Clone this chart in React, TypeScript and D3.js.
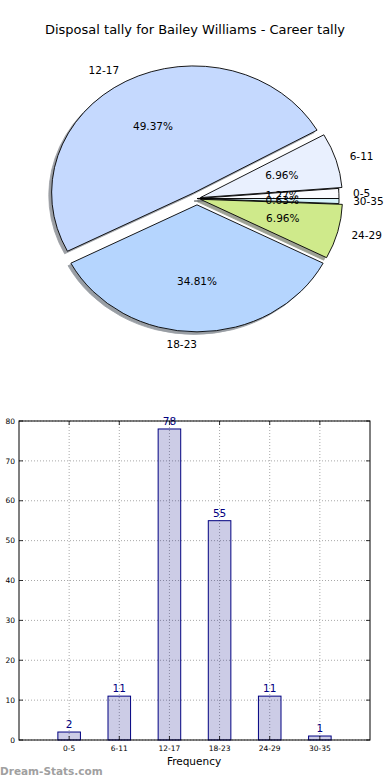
import React from "react";
import * as d3 from "d3";

const categories = ["0-5", "6-11", "12-17", "18-23", "24-29", "30-35"];
const tally = [2, 11, 78, 55, 11, 1];
const sliceColors = ["#fbfcff", "#e9f0fe", "#c5d9fe", "#b5d5fe", "#cfea8b", "#d6f3fb"];
const explode = [0, 0.025, 0.05, 0.05, 0.025, 0];
const yTicks = [0, 10, 20, 30, 40, 50, 60, 70, 80];

const W = 390;
const H = 780;
const font = "DejaVu Sans, sans-serif";

// pie is an ellipse (matplotlib without equal aspect)
const cx = 197;
const cy = 198.5;
const rx = 142;
const ry = 127;

// bar axes box
const bar = { left: 19, right: 370, top: 421, bottom: 740 };

const darken = (c: string) => {
  const col = d3.rgb(c);
  return d3.rgb(col.r * 0.3, col.g * 0.3, col.b * 0.3).toString();
};

const App = () => {
  const total = d3.sum(tally);
  const pie = d3
    .pie<number>()
    .sort(null)
    .startAngle(Math.PI / 2)
    .endAngle(Math.PI / 2 - 2 * Math.PI);
  const slices = pie(tally);
  const arc = d3.arc<d3.PieArcDatum<number>>().innerRadius(0).outerRadius(rx);

  const mid = (d: d3.PieArcDatum<number>) => (d.startAngle + d.endAngle) / 2;

  const x = d3.scaleLinear().domain([-1, 6]).range([bar.left, bar.right]);
  const y = d3.scaleLinear().domain([0, 80]).range([bar.bottom, bar.top]);
  const bw = x(0.45) - x(0);

  return (
    <svg
      width={W}
      height={H}
      style={{ position: "absolute", left: 0, top: 0, background: "#fff" }}
      fontFamily={font}
    >
      <text x={195} y={34} textAnchor="middle" fontSize={13} fill="#000">
        Disposal tally for Bailey Williams - Career tally
      </text>

      {/* pie */}
      <g transform={`translate(${cx},${cy}) scale(1,${ry / rx})`}>
        {slices.map((d, i) => {
          const a = mid(d);
          const ox = explode[i] * rx * Math.sin(a);
          const oy = -explode[i] * rx * Math.cos(a);
          return (
            <path
              key={"s" + i}
              d={arc(d) || ""}
              transform={`translate(${ox - 0.02 * rx},${oy + 0.02 * rx})`}
              fill={darken(sliceColors[i])}
              stroke={darken(sliceColors[i])}
              strokeWidth={0.8}
              opacity={0.5}
              vectorEffect="non-scaling-stroke"
            />
          );
        })}
        {slices.map((d, i) => {
          const a = mid(d);
          const ox = explode[i] * rx * Math.sin(a);
          const oy = -explode[i] * rx * Math.cos(a);
          return (
            <path
              key={"w" + i}
              d={arc(d) || ""}
              transform={`translate(${ox},${oy})`}
              fill={sliceColors[i]}
              stroke="#000"
              strokeWidth={0.9}
              strokeLinejoin="round"
              vectorEffect="non-scaling-stroke"
            />
          );
        })}
      </g>
      {slices.map((d, i) => {
        const a = mid(d);
        const sx = Math.sin(a);
        const cyy = Math.cos(a);
        const lx = cx + (explode[i] + 1.1) * rx * sx;
        const ly = cy - (explode[i] + 1.1) * ry * cyy;
        const px = cx + (explode[i] + 0.6) * rx * sx;
        const py = cy - (explode[i] + 0.6) * ry * cyy;
        return (
          <g key={"t" + i} fontSize={10.5} fill="#000">
            <text x={lx} y={ly} dy="0.35em" textAnchor={sx > 1e-9 ? "start" : "end"}>
              {categories[i]}
            </text>
            <text x={px} y={py} dy="0.35em" textAnchor="middle">
              {((tally[i] / total) * 100).toFixed(2) + "%"}
            </text>
          </g>
        );
      })}

      {/* bar chart */}
      <g>
        {yTicks.map((t) => (
          <line
            key={"gy" + t}
            x1={bar.left}
            x2={bar.right}
            y1={y(t)}
            y2={y(t)}
            stroke="#a8a8a8"
            strokeWidth={1}
            strokeDasharray="1,2"
          />
        ))}
        {categories.map((c, i) => (
          <line
            key={"gx" + c}
            x1={x(i)}
            x2={x(i)}
            y1={bar.top}
            y2={bar.bottom}
            stroke="#a8a8a8"
            strokeWidth={1}
            strokeDasharray="1,2"
          />
        ))}
        {tally.map((v, i) => (
          <rect
            key={"b" + i}
            x={x(i) - bw / 2}
            y={y(v)}
            width={bw}
            height={y(0) - y(v)}
            fill="#000080"
            fillOpacity={0.2}
            stroke="#000080"
            strokeWidth={1}
          />
        ))}
        {tally.map((v, i) => (
          <text
            key={"v" + i}
            x={x(i)}
            y={y(v) - 4}
            textAnchor="middle"
            fontSize={10.5}
            fill="#000080"
          >
            {v}
          </text>
        ))}
        {/* ticks */}
        {yTicks.map((t) => (
          <g key={"ty" + t}>
            <line x1={bar.left} x2={bar.left + 4} y1={y(t)} y2={y(t)} stroke="#000" strokeWidth={0.8} />
            <line x1={bar.right} x2={bar.right - 4} y1={y(t)} y2={y(t)} stroke="#000" strokeWidth={0.8} />
            <text x={15} y={y(t)} dy="0.35em" textAnchor="end" fontSize={7.5} fill="#000">
              {t}
            </text>
          </g>
        ))}
        {categories.map((c, i) => (
          <g key={"tx" + c}>
            <line x1={x(i)} x2={x(i)} y1={bar.bottom} y2={bar.bottom - 4} stroke="#000" strokeWidth={0.8} />
            <line x1={x(i)} x2={x(i)} y1={bar.top} y2={bar.top + 4} stroke="#000" strokeWidth={0.8} />
            <text x={x(i)} y={751} textAnchor="middle" fontSize={7.5} fill="#000">
              {c}
            </text>
          </g>
        ))}
        <rect
          x={bar.left}
          y={bar.top}
          width={bar.right - bar.left}
          height={bar.bottom - bar.top}
          fill="none"
          stroke="#000"
          strokeWidth={1}
        />
        <text x={194} y={765} textAnchor="middle" fontSize={10.5} fill="#000">
          Frequency
        </text>
      </g>

      <text x={0} y={775} fontSize={10.5} fontWeight="bold" fill="#a0a0a0">
        Dream-Stats.com
      </text>
    </svg>
  );
};

export default App;
